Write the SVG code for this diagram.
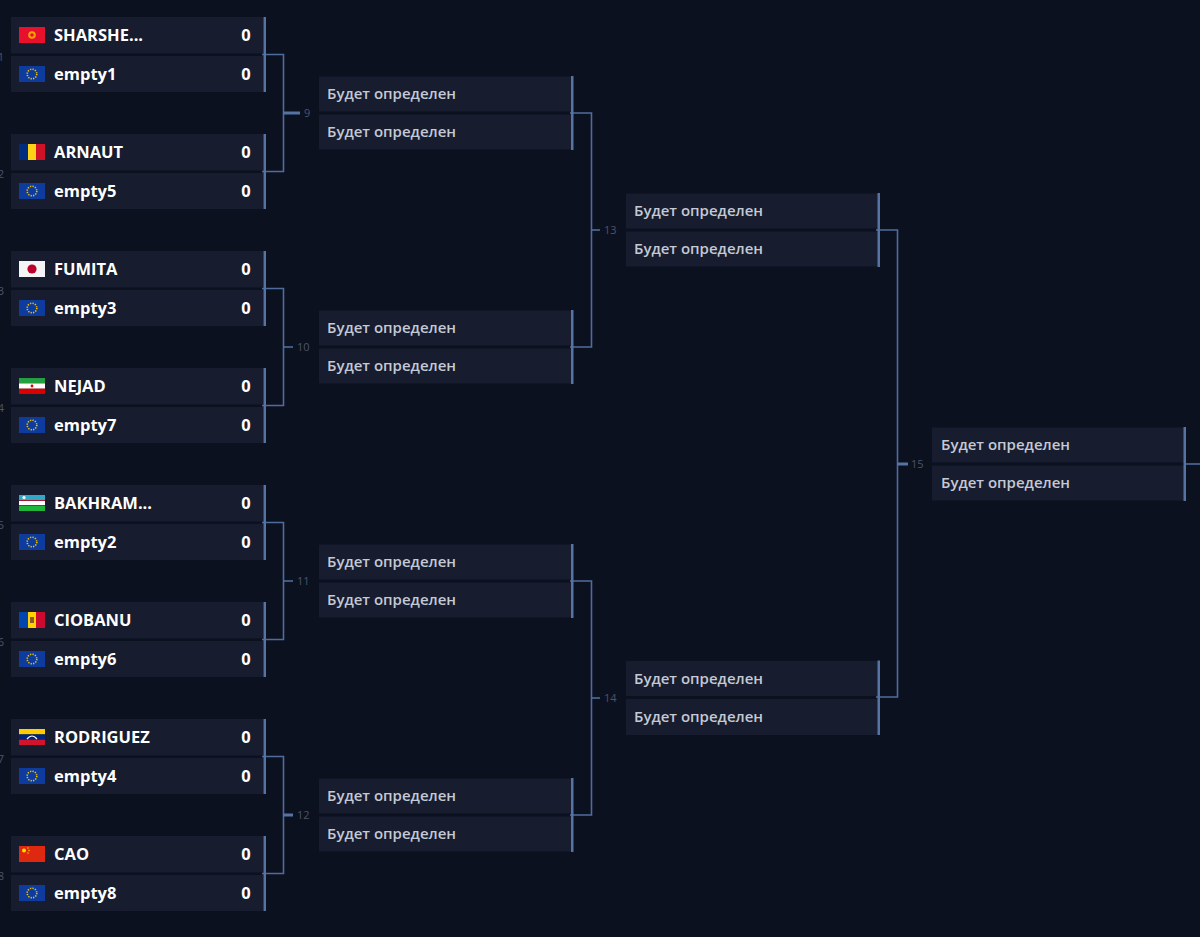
<svg xmlns="http://www.w3.org/2000/svg" xmlns:xlink="http://www.w3.org/1999/xlink" width="1200" height="937" viewBox="0 0 1200 937">
<style>
.slot{fill:#171c2e}
.bar{fill:#5574a3}
.name{font-family:"Open Sans","Liberation Sans",sans-serif;font-weight:700;font-size:16.5px;fill:#ffffff}
.score{font-family:"Open Sans","Liberation Sans",sans-serif;font-weight:700;font-size:16.5px;fill:#ffffff;text-anchor:middle}
.tbd{font-family:"Open Sans","Liberation Sans",sans-serif;font-weight:600;font-size:15px;fill:#c4c9d4}
.num{font-family:"Open Sans","Liberation Sans",sans-serif;font-weight:400;font-size:11px;fill:#4c5467}
.lnum{font-family:"Open Sans","Liberation Sans",sans-serif;font-weight:400;font-size:11px;fill:#4c5467;text-anchor:end}
.conn{fill:none;stroke:#4f6d9c;stroke-width:1.6}
.tick{fill:none;stroke:#4f6d9c;stroke-width:1.6}
.tickb{fill:none;stroke:#5574a3;stroke-width:3}
</style>
<defs>
<g id="f-eu"><rect width="26" height="16" fill="#0d3b9e"/><circle cx="13" cy="8" r="4.8" fill="none" stroke="#f2c200" stroke-width="1.6" stroke-dasharray="1.3 1.2"/></g>
<g id="f-kg"><rect width="26" height="16" fill="#e8112d"/><circle cx="13" cy="8" r="3.8" fill="#f5a300"/><circle cx="13" cy="8" r="1.8" fill="#e8112d"/></g>
<g id="f-ro"><rect width="9" height="16" fill="#002b7f"/><rect x="9" width="8" height="16" fill="#fcd116"/><rect x="17" width="9" height="16" fill="#ce1126"/></g>
<g id="f-jp"><rect width="26" height="16" fill="#f4f4f4"/><circle cx="13" cy="8" r="4.6" fill="#bc002d"/></g>
<g id="f-ir"><rect width="26" height="5.4" fill="#239f40"/><rect y="5.4" width="26" height="5.3" fill="#ffffff"/><rect y="10.7" width="26" height="5.3" fill="#da0000"/><circle cx="13" cy="8" r="1.4" fill="#da0000"/></g>
<g id="f-uz"><rect width="26" height="5.2" fill="#2fa9c7"/><rect y="5.2" width="26" height="0.8" fill="#ce1126"/><rect y="6" width="26" height="4" fill="#ffffff"/><rect y="10" width="26" height="0.8" fill="#ce1126"/><rect y="10.8" width="26" height="5.2" fill="#1eb53a"/><circle cx="5" cy="2.6" r="1.6" fill="#ffffff"/></g>
<g id="f-md"><rect width="9" height="16" fill="#0046ae"/><rect x="9" width="8" height="16" fill="#ffd200"/><rect x="17" width="9" height="16" fill="#cc092f"/><rect x="11" y="5" width="4" height="6" fill="#8a5a2b"/></g>
<g id="f-ve"><rect width="26" height="5.4" fill="#ffcc00"/><rect y="5.4" width="26" height="5.3" fill="#00247d"/><rect y="10.7" width="26" height="5.3" fill="#cf142b"/><path d="M8,10 Q13,4 18,10" fill="none" stroke="#ffffff" stroke-width="1.2"/></g>
<g id="f-cn"><rect width="26" height="16" fill="#de2910"/><circle cx="5" cy="4.5" r="2" fill="#ffde00"/><circle cx="9" cy="2" r="0.7" fill="#ffde00"/><circle cx="10" cy="4.5" r="0.7" fill="#ffde00"/><circle cx="9" cy="7" r="0.7" fill="#ffde00"/></g>
</defs>
<rect width="1200" height="937" fill="#0c1120"/>

<g id="connectors">
<path class="conn" d="M262,54.5 H283.5 V171.5 H262"/>
<path class="tickb" d="M283.5,113 H300"/>
<path class="conn" d="M262,288.5 H283.5 V405.5 H262"/>
<path class="tick" d="M283.5,347 H293"/>
<path class="conn" d="M262,522.5 H283.5 V639.5 H262"/>
<path class="tick" d="M283.5,581 H293"/>
<path class="conn" d="M262,756.5 H283.5 V873.5 H262"/>
<path class="tickb" d="M283.5,815 H293"/>
<path class="conn" d="M570,113 H591.5 V347 H570"/>
<path class="tick" d="M591.5,230 H600"/>
<path class="conn" d="M570,581 H591.5 V815 H570"/>
<path class="tick" d="M591.5,698 H600"/>
<path class="conn" d="M876,230 H897.5 V697 H876"/>
<path class="tickb" d="M897.5,464 H908"/>
<path class="conn" d="M1184,464 H1200"/>
<text class="num" x="304" y="117">9</text>
<text class="num" x="297" y="351">10</text>
<text class="num" x="297" y="585">11</text>
<text class="num" x="297" y="819">12</text>
<text class="num" x="604" y="234">13</text>
<text class="num" x="604" y="702">14</text>
<text class="num" x="911" y="468">15</text>
<text class="lnum" x="4" y="61">1</text>
<text class="lnum" x="4" y="178">2</text>
<text class="lnum" x="4" y="295">3</text>
<text class="lnum" x="4" y="412">4</text>
<text class="lnum" x="4" y="529">5</text>
<text class="lnum" x="4" y="646">6</text>
<text class="lnum" x="4" y="763">7</text>
<text class="lnum" x="4" y="880">8</text>
</g>

<g id="match1">
<rect class="slot" x="11" y="17" width="252" height="36.5"/><rect class="slot" x="11" y="56" width="252" height="36"/>
<rect class="bar" x="263.5" y="17" width="2.5" height="75"/>
<use href="#f-kg" x="19" y="27"/><text class="name" x="54" y="41">SHARSHE...</text><text class="score" x="246" y="41">0</text>
<use href="#f-eu" x="19" y="66"/><text class="name" x="54" y="79.5">empty1</text><text class="score" x="246" y="79.5">0</text>
</g>
<g id="match2">
<rect class="slot" x="11" y="134" width="252" height="36.5"/><rect class="slot" x="11" y="173" width="252" height="36"/>
<rect class="bar" x="263.5" y="134" width="2.5" height="75"/>
<use href="#f-ro" x="19" y="144"/><text class="name" x="54" y="158">ARNAUT</text><text class="score" x="246" y="158">0</text>
<use href="#f-eu" x="19" y="183"/><text class="name" x="54" y="196.5">empty5</text><text class="score" x="246" y="196.5">0</text>
</g>
<g id="match3">
<rect class="slot" x="11" y="251" width="252" height="36.5"/><rect class="slot" x="11" y="290" width="252" height="36"/>
<rect class="bar" x="263.5" y="251" width="2.5" height="75"/>
<use href="#f-jp" x="19" y="261"/><text class="name" x="54" y="275">FUMITA</text><text class="score" x="246" y="275">0</text>
<use href="#f-eu" x="19" y="300"/><text class="name" x="54" y="313.5">empty3</text><text class="score" x="246" y="313.5">0</text>
</g>
<g id="match4">
<rect class="slot" x="11" y="368" width="252" height="36.5"/><rect class="slot" x="11" y="407" width="252" height="36"/>
<rect class="bar" x="263.5" y="368" width="2.5" height="75"/>
<use href="#f-ir" x="19" y="378"/><text class="name" x="54" y="392">NEJAD</text><text class="score" x="246" y="392">0</text>
<use href="#f-eu" x="19" y="417"/><text class="name" x="54" y="430.5">empty7</text><text class="score" x="246" y="430.5">0</text>
</g>
<g id="match5">
<rect class="slot" x="11" y="485" width="252" height="36.5"/><rect class="slot" x="11" y="524" width="252" height="36"/>
<rect class="bar" x="263.5" y="485" width="2.5" height="75"/>
<use href="#f-uz" x="19" y="495"/><text class="name" x="54" y="509">BAKHRAM...</text><text class="score" x="246" y="509">0</text>
<use href="#f-eu" x="19" y="534"/><text class="name" x="54" y="547.5">empty2</text><text class="score" x="246" y="547.5">0</text>
</g>
<g id="match6">
<rect class="slot" x="11" y="602" width="252" height="36.5"/><rect class="slot" x="11" y="641" width="252" height="36"/>
<rect class="bar" x="263.5" y="602" width="2.5" height="75"/>
<use href="#f-md" x="19" y="612"/><text class="name" x="54" y="626">CIOBANU</text><text class="score" x="246" y="626">0</text>
<use href="#f-eu" x="19" y="651"/><text class="name" x="54" y="664.5">empty6</text><text class="score" x="246" y="664.5">0</text>
</g>
<g id="match7">
<rect class="slot" x="11" y="719" width="252" height="36.5"/><rect class="slot" x="11" y="758" width="252" height="36"/>
<rect class="bar" x="263.5" y="719" width="2.5" height="75"/>
<use href="#f-ve" x="19" y="729"/><text class="name" x="54" y="743">RODRIGUEZ</text><text class="score" x="246" y="743">0</text>
<use href="#f-eu" x="19" y="768"/><text class="name" x="54" y="781.5">empty4</text><text class="score" x="246" y="781.5">0</text>
</g>
<g id="match8">
<rect class="slot" x="11" y="836" width="252" height="36.5"/><rect class="slot" x="11" y="875" width="252" height="36"/>
<rect class="bar" x="263.5" y="836" width="2.5" height="75"/>
<use href="#f-cn" x="19" y="846"/><text class="name" x="54" y="860">CAO</text><text class="score" x="246" y="860">0</text>
<use href="#f-eu" x="19" y="885"/><text class="name" x="54" y="898.5">empty8</text><text class="score" x="246" y="898.5">0</text>
</g>

<g id="match9">
<rect class="slot" x="319" y="76.5" width="252" height="35"/><rect class="slot" x="319" y="114.5" width="252" height="35"/>
<rect class="bar" x="571" y="76" width="2.5" height="74"/>
<text class="tbd" x="327" y="99">Будет определен</text><text class="tbd" x="327" y="137">Будет определен</text>
</g>
<g id="match10">
<rect class="slot" x="319" y="310.5" width="252" height="35"/><rect class="slot" x="319" y="348.5" width="252" height="35"/>
<rect class="bar" x="571" y="310" width="2.5" height="74"/>
<text class="tbd" x="327" y="333">Будет определен</text><text class="tbd" x="327" y="371">Будет определен</text>
</g>
<g id="match11">
<rect class="slot" x="319" y="544.5" width="252" height="35"/><rect class="slot" x="319" y="582.5" width="252" height="35"/>
<rect class="bar" x="571" y="544" width="2.5" height="74"/>
<text class="tbd" x="327" y="567">Будет определен</text><text class="tbd" x="327" y="605">Будет определен</text>
</g>
<g id="match12">
<rect class="slot" x="319" y="778.5" width="252" height="35"/><rect class="slot" x="319" y="816.5" width="252" height="35"/>
<rect class="bar" x="571" y="778" width="2.5" height="74"/>
<text class="tbd" x="327" y="801">Будет определен</text><text class="tbd" x="327" y="839">Будет определен</text>
</g>

<g id="match13">
<rect class="slot" x="626" y="193.5" width="252" height="35"/><rect class="slot" x="626" y="231.5" width="252" height="35"/>
<rect class="bar" x="877.5" y="193" width="2.5" height="74"/>
<text class="tbd" x="634" y="216">Будет определен</text><text class="tbd" x="634" y="254">Будет определен</text>
</g>
<g id="match14">
<rect class="slot" x="626" y="661" width="252" height="35"/><rect class="slot" x="626" y="699" width="252" height="36"/>
<rect class="bar" x="877.5" y="660.5" width="2.5" height="74.5"/>
<text class="tbd" x="634" y="683.5">Будет определен</text><text class="tbd" x="634" y="721.5">Будет определен</text>
</g>

<g id="match15">
<rect class="slot" x="932" y="427.5" width="252" height="35"/><rect class="slot" x="932" y="465.5" width="252" height="35"/>
<rect class="bar" x="1183.5" y="427" width="2.5" height="74"/>
<text class="tbd" x="941" y="450">Будет определен</text><text class="tbd" x="941" y="488">Будет определен</text>
</g>
</svg>
